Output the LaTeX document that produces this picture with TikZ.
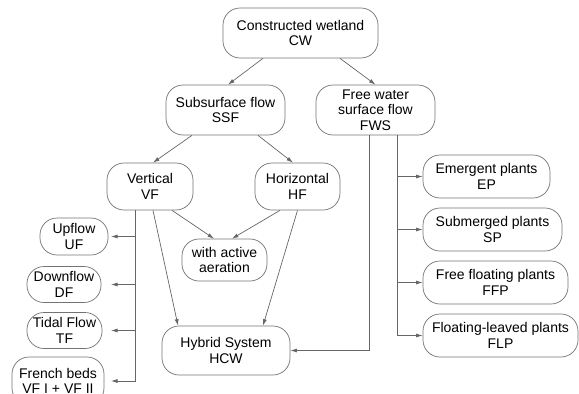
\documentclass[tikz,border=0pt]{standalone}
\usepackage{fontspec}
\setmainfont{Liberation Sans}
\usetikzlibrary{arrows.meta}

\tikzset{
  box/.style={draw=black!55, line width=0.7pt, rounded corners=17pt, align=center,
    inner sep=2pt, text=black, font=\fontsize{14}{15.5}\selectfont},
  link/.style={draw=black!60, line width=0.7pt, -{Latex[length=6.5pt,width=4pt]}}
}

\begin{document}
\begin{tikzpicture}[x=1pt,y=-1pt]
% Tipologie di zone umide costruite
\path[use as bounding box, clip] (0,0) rectangle (579,394);

\node[box, minimum width=155pt, minimum height=50pt] (CW) at (300.5,33) {Constructed wetland\\CW};
\node[box, minimum width=119pt, minimum height=50pt] (SSF) at (225.5,110) {Subsurface flow\\SSF};
\node[box, minimum width=119pt, minimum height=50pt] (FWS) at (375.5,110) {Free water\\surface flow\\FWS};

\node[box, minimum width=86pt, minimum height=47pt] (VF) at (150,186.5) {Vertical\\VF};
\node[box, minimum width=85pt, minimum height=47pt] (HF) at (297.5,186.5) {Horizontal\\HF};
\node[box, minimum width=85pt, minimum height=42pt] (aer) at (224.5,260) {with active\\aeration};
\node[box, minimum width=128pt, minimum height=49pt] (HCW) at (226,350.5) {Hybrid System\\HCW};

\node[box, minimum width=68pt, minimum height=37pt] (UF) at (74,236.5) {Upflow\\UF};
\node[box, minimum width=74pt, minimum height=36pt] (DF) at (64,284.5) {Downflow\\DF};
\node[box, minimum width=75pt, minimum height=36pt] (TF) at (64.5,330.5) {Tidal Flow\\TF};
\node[box, minimum width=92pt, minimum height=48pt] (FB) at (58,381) {French beds\\VF I + VF II};

\node[box, minimum width=127pt, minimum height=43pt] (EP) at (486.5,176.5) {Emergent plants\\EP};
\node[box, minimum width=139pt, minimum height=43pt] (SP) at (492.5,229.5) {Submerged plants\\SP};
\node[box, minimum width=145pt, minimum height=43pt] (FFP) at (495.5,282.5) {Free floating plants\\FFP};
\node[box, minimum width=155pt, minimum height=43pt] (FLP) at (500.5,335.5) {Floating-leaved plants\\FLP};

\draw[link] ([xshift=-37.5pt]CW.south) -- ([xshift=2.5pt]SSF.north);
\draw[link] ([xshift=39.5pt]CW.south) -- (FWS.north);
\draw[link] ([xshift=-33.5pt]SSF.south) -- ([xshift=3pt]VF.north);
\draw[link] ([xshift=32.5pt]SSF.south) -- ([xshift=-4.5pt]HF.north);

\draw[link] ([xshift=22pt]VF.south) -- ([xshift=-10.5pt]aer.north);
\draw[link] ([xshift=-17.5pt]HF.south) -- ([xshift=7.5pt]aer.north);
\draw[link] ([xshift=3pt]VF.south) -- ([xshift=-48pt]HCW.north);
\draw[link] (HF.south) -- ([xshift=37pt]HCW.north);
\draw[link] ([xshift=-6.5pt]FWS.south) |- (HCW.east);

% rami di VF
\coordinate (vtrunk) at ([xshift=-15pt]VF.south);
\coordinate (vtip) at (111,0);
\draw[link] (vtrunk) |- (FB.east -| vtip);
\foreach \n in {UF,DF,TF}
  \draw[link] (vtrunk |- \n.east) -- (\n.east -| vtip);

% rami di FWS
\coordinate (ftrunk) at ([xshift=21.5pt]FWS.south);
\draw[link] (ftrunk) |- (FLP.west);
\foreach \n in {EP,SP,FFP}
  \draw[link] (ftrunk |- \n.west) -- (\n.west);
\end{tikzpicture}
\end{document}
